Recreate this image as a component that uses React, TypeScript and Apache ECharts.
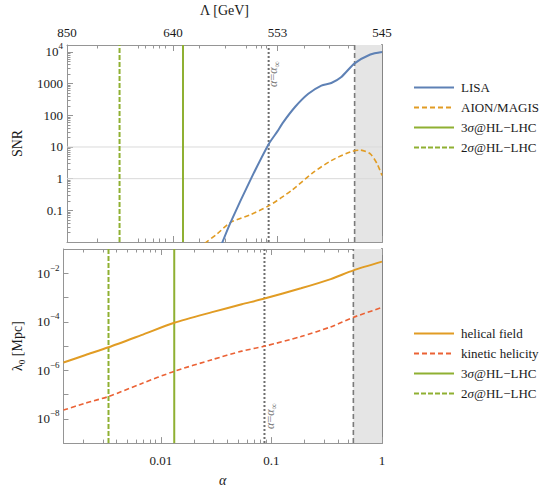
import React, { useEffect, useRef } from "react";
import * as echarts from "echarts";

const FONT = "'Liberation Serif', 'Times New Roman', 'DejaVu Serif', serif";
const TEXT = "#1a1a1a";
const FRAME = "#959595";

// ---------- axis ranges ----------
const alphaMin = 0.00132;
const alphaMax = 1;
const snrMin = 0.01;
const snrMax = 16600;
const lambdaMin = 1e-9;
const lambdaMax = 0.1;

// ---------- top panel: SNR ----------
const lisaAlpha = [0.0339, 0.0413, 0.0637, 0.092, 0.111, 0.123, 0.161, 0.212, 0.279, 0.344, 0.422, 0.562, 0.782, 1];
const lisaSNR = [0.0079, 0.0417, 1.02, 12.3, 31.6, 56, 186, 479, 871, 1047, 1585, 4365, 8318, 10000];
const aionAlpha = [0.024, 0.0312, 0.0413, 0.0624, 0.092, 0.151, 0.228, 0.344, 0.518, 0.637, 0.782, 0.902, 1];
const aionSNR = [0.0091, 0.0182, 0.0417, 0.0724, 0.138, 0.437, 1.45, 3.72, 7.08, 7.94, 6.03, 2.95, 1.26];

// ---------- bottom panel: lambda_0 ----------
const helicalAlpha = [0.00132, 0.00209, 0.00337, 0.00667, 0.01324, 0.0291, 0.054, 0.0866, 0.185, 0.344, 0.551, 1];
const helicalLambda = [2.09e-6, 4.27e-6, 8.9e-6, 2.82e-5, 9.1e-5, 2.5e-4, 5.25e-4, 9.1e-4, 2.4e-3, 5.75e-3, 0.0132, 0.0302];
const kineticAlpha = [0.00132, 0.00209, 0.00337, 0.00667, 0.01324, 0.0291, 0.054, 0.0861, 0.185, 0.344, 0.555, 1];
const kineticLambda = [2.29e-8, 4.47e-8, 8.3e-8, 2.82e-7, 9.1e-7, 2.75e-6, 6.17e-6, 9.77e-6, 2.45e-5, 6.17e-5, 1.55e-4, 3.89e-4];

// ---------- vertical markers (alpha) ----------
const hlNames = ["3σ@HL−LHC", "2σ@HL−LHC"];
const topHL = [0.01517, 0.00399];
const bottomHL = [0.01324, 0.00337];
const topAlphaInf = 0.092;
const bottomAlphaInf = 0.0866;
const topShadeStart = 0.562;
const bottomShadeStart = 0.551;

// ---------- ticks ----------
const snrTickValues = [0.1, 1, 10, 100, 1000, 10000];
const snrTickLabels = ["0.1", "1", "10", "100", "1000", "10{sup|4}"];
const snrGridValues = [1, 10];
const lambdaTickValues = [1e-8, 1e-7, 1e-6, 1e-5, 1e-4, 1e-3, 1e-2];
const lambdaTickLabels = ["10{sup|−8}", "", "10{sup|−6}", "", "10{sup|−4}", "", "10{sup|−2}"];
const alphaTickValues = [0.01, 0.1, 1];
const alphaTickLabels = ["0.01", "0.1", "1"];
const LambdaGeVAlpha = [alphaMin, 0.01227, 0.1109, 1];
const LambdaGeVLabels = ["850", "640", "553", "545"];
const LambdaGeVMinorAlpha = [0.00252, 0.00586, 0.0069, 0.00815, 0.0092, 0.01042, 0.0214, 0.0372, 0.0574, 0.0705, 0.0782, 0.0866, 0.193, 0.33, 0.487, 0.637, 0.735, 0.815, 0.902];

const L = Math.log10;
const pairs = (xs: number[], ys: number[]) => xs.map((x, i) => [L(x), L(ys[i])]);
const logMinor = (lo: number, hi: number) => {
  const out: number[] = [];
  for (let n = Math.floor(lo); n < hi; n++) {
    for (let k = 2; k <= 9; k++) {
      const v = n + Math.log10(k);
      if (v > lo + 1e-9 && v < hi - 1e-9) out.push(v);
    }
  }
  return out;
};
const fmtFrom = (vals: number[], labels: string[]) => (v: number) => {
  const i = vals.findIndex((x) => Math.abs(x - v) < 1e-6);
  return i >= 0 ? labels[i] : "";
};

const XR = [L(alphaMin), L(alphaMax)];
const TY = [L(snrMin), L(snrMax)];
const BY = [L(lambdaMin), L(lambdaMax)];

const labelRich = {
  sup: { fontSize: 9, fontFamily: FONT, color: TEXT, verticalAlign: "top", lineHeight: 9 },
};

function mkAxis(o: any) {
  const ax: any = {
    type: "value",
    gridIndex: o.gridIndex,
    position: o.position,
    min: o.min,
    max: o.max,
    silent: true,
    axisLine: { show: !!o.line, onZero: false, lineStyle: { color: o.lineColor || FRAME, width: o.lineWidth || 1 } },
    axisTick: {
      show: o.ticks && o.ticks.length > 0,
      inside: true,
      length: o.len || 5,
      customValues: o.ticks || [],
      lineStyle: { color: FRAME, width: 1 },
    },
    axisLabel: o.labels
      ? {
          show: true,
          customValues: o.labels.values,
          formatter: fmtFrom(o.labels.values, o.labels.texts),
          margin: o.labels.margin,
          color: TEXT,
          fontFamily: FONT,
          fontSize: 13,
          lineHeight: 20,
          rich: labelRich,
        }
      : { show: false },
    splitLine: { show: false },
    splitArea: { show: false },
  };
  if (o.name) {
    ax.name = o.name;
    ax.nameLocation = "middle";
    ax.nameGap = o.nameGap;
    if (o.nameRotate !== undefined) ax.nameRotate = o.nameRotate;
    ax.nameTextStyle = {
      fontFamily: FONT,
      fontSize: 14,
      color: TEXT,
      fontStyle: o.nameItalic ? "italic" : "normal",
      lineHeight: 18,
      rich: {
        sub: { fontSize: 9, fontFamily: FONT, color: TEXT, verticalAlign: "bottom", lineHeight: 9 },
      },
    };
  }
  return ax;
}

const alphaMinor = logMinor(XR[0], XR[1]);
const snrMinor = logMinor(TY[0], TY[1]);

const xAxes = [
  mkAxis({ gridIndex: 0, position: "bottom", min: XR[0], max: XR[1], ticks: LambdaGeVAlpha.map(L), len: 6, line: true }),
  mkAxis({ gridIndex: 0, position: "bottom", min: XR[0], max: XR[1], ticks: LambdaGeVMinorAlpha.map(L), len: 3.5 }),
  mkAxis({
    gridIndex: 0, position: "top", min: XR[0], max: XR[1], ticks: LambdaGeVAlpha.map(L), len: 6, line: true,
    labels: { values: LambdaGeVAlpha.map(L), texts: LambdaGeVLabels, margin: 3 },
    name: "Λ [GeV]", nameGap: 26,
  }),
  mkAxis({ gridIndex: 0, position: "top", min: XR[0], max: XR[1], ticks: LambdaGeVMinorAlpha.map(L), len: 3.5 }),
  mkAxis({
    gridIndex: 1, position: "bottom", min: XR[0], max: XR[1], ticks: alphaTickValues.map(L), len: 6, line: true,
    labels: { values: alphaTickValues.map(L), texts: alphaTickLabels, margin: 7 },
    name: "α", nameGap: 17, nameItalic: true,
  }),
  mkAxis({ gridIndex: 1, position: "bottom", min: XR[0], max: XR[1], ticks: alphaMinor, len: 3.5 }),
  mkAxis({ gridIndex: 1, position: "top", min: XR[0], max: XR[1], ticks: alphaTickValues.map(L), len: 6, line: true }),
  mkAxis({ gridIndex: 1, position: "top", min: XR[0], max: XR[1], ticks: alphaMinor, len: 3.5 }),
];

const yAxes = [
  mkAxis({
    gridIndex: 0, position: "left", min: TY[0], max: TY[1], ticks: snrTickValues.map(L), len: 6, line: true,
    labels: { values: snrTickValues.map(L), texts: snrTickLabels, margin: 4 },
    name: "SNR", nameGap: 41, nameRotate: 90,
  }),
  mkAxis({ gridIndex: 0, position: "left", min: TY[0], max: TY[1], ticks: snrMinor, len: 3.5 }),
  mkAxis({ gridIndex: 0, position: "right", min: TY[0], max: TY[1], ticks: [], line: true, lineWidth: 2, lineColor: "#858585" }),
  mkAxis({
    gridIndex: 1, position: "left", min: BY[0], max: BY[1], ticks: lambdaTickValues.map(L), len: 5, line: true,
    labels: { values: lambdaTickValues.map(L), texts: lambdaTickLabels, margin: 4 },
    name: "λ{sub|0} [Mpc]", nameGap: 35, nameRotate: 90,
  }),
  mkAxis({ gridIndex: 1, position: "right", min: BY[0], max: BY[1], ticks: [], line: true, lineWidth: 2, lineColor: "#858585" }),
];

function curve(name: string, xi: number, yi: number, data: number[][], color: string, type: any, width: number, z: number) {
  return {
    type: "line", name, xAxisIndex: xi, yAxisIndex: yi, data, symbol: "none", showSymbol: false,
    smooth: 0.25,
    lineStyle: { color, type, width }, itemStyle: { color }, z, silent: true, clip: true,
  };
}
function vline(name: string, xi: number, yi: number, a: number, yr: number[], color: string, type: any, width: number, z: number) {
  return {
    type: "line", name, xAxisIndex: xi, yAxisIndex: yi, data: [[L(a), yr[0]], [L(a), yr[1]]], symbol: "none", showSymbol: false,
    lineStyle: { color, type, width }, itemStyle: { color }, z, silent: true,
  };
}
function hline(xi: number, yi: number, v: number) {
  return {
    type: "line", name: "grid", xAxisIndex: xi, yAxisIndex: yi, data: [[XR[0], L(v)], [XR[1], L(v)]], symbol: "none",
    lineStyle: { color: "#dadada", width: 1 }, z: 1, silent: true,
  };
}
function shade(xi: number, yi: number, start: number, yr: number[]) {
  return {
    type: "line", name: "shade", xAxisIndex: xi, yAxisIndex: yi, data: [[L(start), yr[0]], [L(start), yr[1]]], symbol: "none",
    lineStyle: { opacity: 0 }, z: 2, silent: true,
    markArea: { silent: true, itemStyle: { color: "#e5e5e5" }, data: [[{ xAxis: L(start) }, { xAxis: XR[1] }]] },
  };
}

const GREEN = "#8FB032";
const series: any[] = [
  // top panel
  ...snrGridValues.map((v) => hline(0, 0, v)),
  shade(0, 0, topShadeStart, TY),
  vline("edge", 0, 0, topShadeStart, TY, "#7a7a7a", [5, 3], 1.6, 3),
  vline("alphaInf", 0, 0, topAlphaInf, TY, "#6e6e6e", [2, 2], 2, 3),
  vline(hlNames[0], 0, 0, topHL[0], TY, GREEN, "solid", 2, 4),
  vline(hlNames[1], 0, 0, topHL[1], TY, GREEN, [5, 2], 2, 4),
  curve("AION/MAGIS", 0, 0, pairs(aionAlpha, aionSNR), "#E19C24", [5, 3], 1.6, 5),
  curve("LISA", 0, 0, pairs(lisaAlpha, lisaSNR), "#5E81B5", "solid", 2, 6),
  // bottom panel
  shade(4, 3, bottomShadeStart, BY),
  vline("edge", 4, 3, bottomShadeStart, BY, "#7a7a7a", [5, 3], 1.6, 3),
  vline("alphaInf", 4, 3, bottomAlphaInf, BY, "#6e6e6e", [2, 2], 2, 3),
  vline(hlNames[0], 4, 3, bottomHL[0], BY, GREEN, "solid", 2, 4),
  vline(hlNames[1], 4, 3, bottomHL[1], BY, GREEN, [5, 2], 2, 4),
  curve("kinetic helicity", 4, 3, pairs(kineticAlpha, kineticLambda), "#EB6235", [5, 3], 1.6, 5),
  curve("helical field", 4, 3, pairs(helicalAlpha, helicalLambda), "#E19C24", "solid", 2, 6),
];

const legendBase = {
  orient: "vertical",
  left: 413,
  itemWidth: 40,
  itemHeight: 14,
  itemGap: 7,
  padding: 0,
  selectedMode: false,
  itemStyle: { opacity: 0, borderWidth: 0 },
  textStyle: {
    fontFamily: FONT,
    fontSize: 13,
    color: TEXT,
    padding: [0, 0, 0, 2],
    rich: { i: { fontStyle: "italic", fontFamily: FONT, fontSize: 13, color: TEXT } },
  },
  formatter: (n: string) => n.replace("σ", "{i|σ}"),
};

const annRich = {
  i: { fontStyle: "italic", fontFamily: FONT, fontSize: 12, fill: "#7f7f7f" },
  s: { fontFamily: FONT, fontSize: 9, fill: "#7f7f7f", verticalAlign: "bottom", lineHeight: 9 },
};
const annotationText = "{i|α}={i|α}{s|∞}";

const option: any = {
  animation: false,
  backgroundColor: "#ffffff",
  grid: [
    { left: 60, top: 42, width: 322, height: 200, containLabel: false },
    { left: 60, top: 249, width: 322, height: 199, containLabel: false },
  ],
  xAxis: xAxes,
  yAxis: yAxes,
  legend: [
    { ...legendBase, top: 81, data: ["LISA", "AION/MAGIS", hlNames[0], hlNames[1]] },
    { ...legendBase, top: 327, data: ["helical field", "kinetic helicity", hlNames[0], hlNames[1]] },
  ],
  graphic: [
    {
      type: "text", x: 273, y: 74, rotation: Math.PI / 2, silent: true,
      style: { text: annotationText, fill: "#7f7f7f", fontFamily: FONT, fontSize: 12, lineHeight: 16, align: "center", verticalAlign: "middle", rich: annRich },
    },
    {
      type: "text", x: 270, y: 416, rotation: Math.PI / 2, silent: true,
      style: { text: annotationText, fill: "#7f7f7f", fontFamily: FONT, fontSize: 12, lineHeight: 16, align: "center", verticalAlign: "middle", rich: annRich },
    },
  ],
  series,
};

export default function App() {
  const ref = useRef<HTMLDivElement>(null);
  useEffect(() => {
    document.body.style.margin = "0";
    const chart = echarts.init(ref.current as HTMLDivElement, null, { renderer: "svg" });
    chart.setOption(option);
    return () => chart.dispose();
  }, []);
  return <div ref={ref} style={{ width: 545, height: 490 }} />;
}
